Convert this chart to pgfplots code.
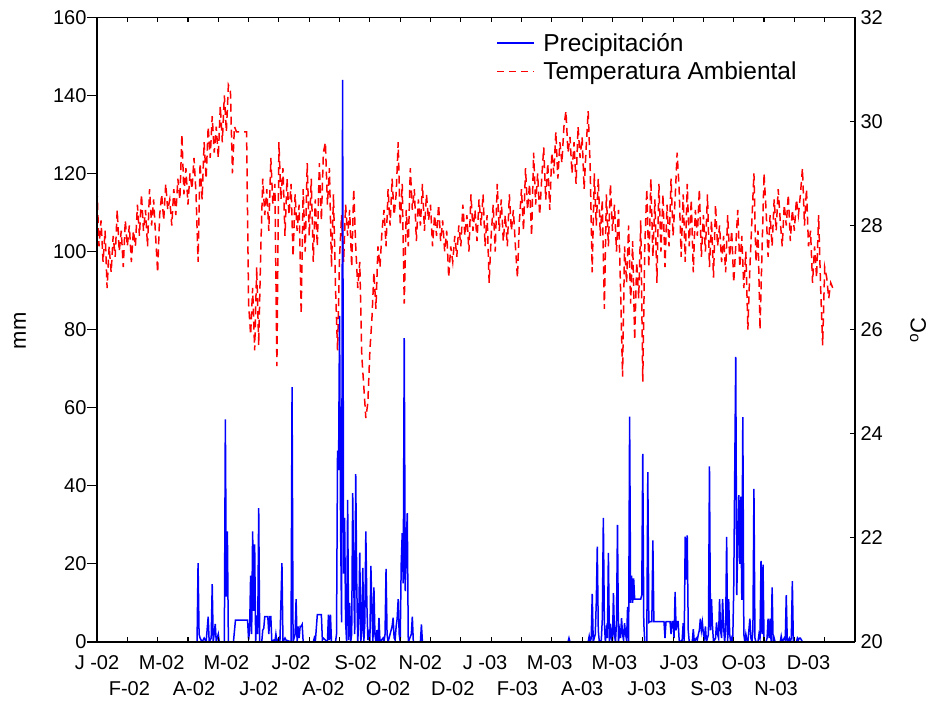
\documentclass[border=0pt]{standalone}
\usepackage{fontspec}
\setmainfont{Liberation Sans}
\usepackage{pgfplots}
\pgfplotsset{compat=1.18}
\pgfplotsset{
  myaxis/.style={scale only axis, width=758pt, height=624.7pt, xmin=0, xmax=750, clip=true,
    tick label style={font=\fontsize{20}{26}\selectfont},
    /pgf/number format/assume math mode=true,
    axis line style={line width=1.3pt, black},
    tick style={black, line width=1.1pt},
  }
}
\begin{document}
\begin{tikzpicture}
\path[use as bounding box] (-97pt,-61pt) rectangle (838pt,642pt);
% ---------- temperature (right axis) ----------
\begin{axis}[myaxis, ymin=20, ymax=32,
  axis x line=none, axis y line*=right, xtick=\empty,
  ytick={20,22,...,32}, tick align=inside, major tick length=5pt,
  yticklabel style={xshift=2pt},
  ylabel={\textsuperscript{o}C},
  every axis y label/.style={at={(axis description cs:1.0831,0.5)}, rotate=90, anchor=center, font=\fontsize{22}{26}\selectfont},
  legend cell align=left,
  legend style={draw=none, fill=none, at={(axis description cs:0.5225,0.981)}, anchor=north west,
    font=\fontsize{24.5}{28}\selectfont, row sep=5pt},
]
\addlegendimage{legend image code/.code={\draw[draw=blue, line width=1.5pt] (0pt,0pt) -- (37pt,0pt); \path (44pt,0pt);}}
\addlegendentry{Precipitación}
\addlegendimage{legend image code/.code={\draw[draw=red, line width=1.7pt, dash pattern=on 7pt off 5pt] (0pt,0pt) -- (37pt,0pt); \path (44pt,0pt);}}
\addlegendentry{Temperatura Ambiental}
\addplot[red, line width=1.5pt, dash pattern=on 8pt off 5pt, forget plot] coordinates {
(0,28.7)(2,27.6)(4,28.1)(6,27.3)(8,27.9)(10,26.8)(12,27.6)(14,27.1)(16,27.8)(18,27.4)(20,28.3)(22,27.5)(24,27.9)(26,27.2)(28,28.1)(30,27.6)(32,28.0)(34,27.3)(36,27.9)
(38,27.6)(40,28.4)(42,27.8)(44,28.6)(46,27.9)(48,28.3)(50,27.6)(52,28.7)(54,28.0)(56,28.5)(58,27.8)(60,27.1)(62,28.2)(64,28.6)(66,28.1)(68,28.8)(70,28.3)
(72,28.5)(74,28.0)(76,28.7)(78,28.2)(80,28.9)(82,28.5)(84,29.75)(86,28.6)(88,29.1)(90,28.4)(92,29.0)(94,28.7)(96,29.3)
(98,28.6)(100,27.3)(102,29.2)(104,28.5)(106,29.6)(108,28.9)(110,29.9)(112,29.3)(114,30.1)(116,29.4)
(118,29.9)(120,29.3)(122,30.3)(124,29.6)(126,30.5)(128,29.8)(130,30.7)(132,30.6)(134,29.0)(136,29.9)
(138,29.8)(148,29.8)
(150,26.5)(152,25.9)(154,26.8)(156,25.6)(158,27.2)(160,25.7)(162,27.5)
(164,28.9)(166,28.2)(168,28.7)(170,27.9)(172,29.3)(174,28.4)(176,28.8)(178,25.3)
(180,29.6)(182,28.5)(184,29.1)(186,27.8)(188,28.9)(190,28.2)
(192,28.8)(194,27.4)(196,28.6)(198,27.9)(200,28.4)
(202,26.3)(204,28.7)(206,27.5)(208,29.2)(210,27.8)(212,28.9)(214,27.3)
(216,28.5)(218,27.6)(220,29.2)(222,28.1)(224,29.4)(226,29.6)(228,28.4)(230,29.1)
(232,27.2)(234,28.6)(236,26.8)(238,25.6)(240,27.4)
(242,28.2)(244,27.3)(246,28.4)(248,27.8)(250,28.3)(252,27.2)(254,28.7)(256,27.6)
(258,26.8)(260,27.3)(262,25.5)(264,24.9)(266,24.3)(268,24.6)(270,25.6)(272,26.2)
(274,27.1)(276,26.4)(278,27.6)(280,27.2)(282,27.9)
(284,28.3)(286,27.6)(288,28.7)(290,28.0)(292,28.9)(294,28.2)(296,28.6)(298,29.6)
(300,28.0)(302,28.8)(304,26.5)(306,28.3)(308,27.6)(310,29.1)
(312,28.3)(314,28.7)(316,27.7)(318,28.5)(320,28.0)(322,28.8)(324,27.9)(326,28.6)(328,28.1)(330,28.4)(332,27.6)(334,28.2)(336,27.8)(338,28.4)
(340,27.7)(342,28.1)(344,27.5)(346,27.9)(348,27.0)(350,27.6)(352,27.3)(354,27.8)(356,27.4)(358,28.0)
(360,27.6)(362,28.4)(364,27.8)(366,28.2)(368,27.5)(370,28.6)(372,27.9)(374,28.3)(376,27.7)(378,28.5)(380,28.0)
(382,28.6)(384,27.6)(386,28.2)(388,26.9)(390,27.8)(392,28.4)(394,27.5)(396,28.8)(398,27.9)
(400,28.5)(402,27.7)(404,28.2)(406,27.6)(408,28.6)(410,27.9)(412,28.3)(414,27.6)(416,27.0)(418,28.1)
(420,28.7)(422,27.9)(424,29.1)(426,28.3)(428,28.8)(430,27.8)(432,29.4)(434,28.4)(436,29.0)(438,28.2)(440,28.9)
(442,29.5)(444,28.5)(446,29.2)(448,28.3)(450,29.4)
(452,29.0)(454,29.8)(456,28.9)(458,29.6)(460,29.2)(462,29.9)(464,30.2)(466,29.4)(468,29.7)
(470,29.0)(472,29.6)(474,28.8)(476,29.9)(478,29.3)(480,29.7)(482,28.7)(484,29.5)(486,30.2)(488,29.1)
(490,27.1)(492,29.0)(494,28.0)(496,28.9)(498,27.8)(500,28.5)
(502,26.4)(504,28.6)(506,27.6)(508,28.8)(510,27.9)(512,28.4)(514,27.5)
(516,28.3)(518,26.8)(520,25.1)(522,27.6)(524,26.9)
(526,28.0)(528,26.5)(530,27.7)(532,25.8)(534,27.3)(536,26.6)(538,28.1)(540,25.0)
(542,27.6)(544,28.7)(546,27.2)(548,28.9)(550,27.4)(552,28.5)(554,26.9)(556,28.8)(558,27.5)(560,28.6)(562,27.2)(564,28.4)
(566,27.6)(568,28.9)(570,27.8)(572,28.5)(574,29.4)(576,28.7)(578,27.4)(580,28.6)
(582,27.3)(584,28.8)(586,27.6)(588,28.5)(590,27.1)(592,28.3)(594,27.8)(596,28.7)(598,27.4)(600,28.2)
(602,27.5)(604,28.6)(606,27.2)(608,28.1)(610,27.0)(612,28.4)(614,27.6)(616,28.0)(618,27.3)(620,27.8)
(622,27.1)(624,28.2)(626,27.4)(628,27.9)(630,26.9)(632,27.6)(634,28.3)(636,27.2)(638,27.8)(640,26.8)(642,27.5)(644,26.0)
(646,27.2)(648,28.1)(650,29.0)(652,27.3)(654,27.9)(656,26.0)
(658,27.5)(660,29.0)(662,28.3)(664,27.4)
(666,28.2)(668,27.6)(670,28.5)(672,27.9)(674,28.7)(676,28.1)(678,27.6)(680,28.4)(682,28.0)(684,28.6)(686,27.7)(688,28.3)(690,27.9)(692,28.5)(694,28.2)
(696,28.6)(698,29.1)(700,28.0)(702,28.7)(704,27.6)
(706,27.9)(708,26.9)(710,27.6)(712,27.0)(714,28.2)(716,26.8)(718,25.7)(720,27.2)
(722,27.0)(724,26.6)(726,26.9)(728,26.8)
};
\end{axis}
% ---------- precipitation (left axis) ----------
\begin{axis}[myaxis, ymin=0, ymax=160,
  axis x line=none, axis y line*=left, xtick=\empty,
  ytick={0,20,...,160}, tick align=outside, major tick length=10pt,
  yticklabel style={xshift=3pt},
  ylabel={mm},
  every axis y label/.style={at={(axis description cs:-0.1016,0.498)}, rotate=90, anchor=center, font=\fontsize{22}{26}\selectfont},
]
\addplot[blue, line width=1.5pt] coordinates {
(0,0)(99,0)(100,20.2)(101,2)(102,1)(103,0.5)(104,0)(106,1)(107,0.5)(108,0)(110,6.5)(111,0)(113,1)(114,14.8)(115,0)(117,4.6)(118,0)(120,2)(121,0)(126,0)(127,57)(128,11.6)(129,28.3)(130,0)(135,0)(137,5.6)(149,5.6)(150,0.5)(151,3)(152,17)(153,2)(154,28.3)(155,8)(156,25)(157,0)(158,6.8)(159,2)(160,34.3)(161,0)(163,0)(164,3)(165,3.5)(166,6.5)(169,6.5)(170,2)(171,6.5)(172,6.5)(173,0)(175,0.5)(176,0)(177,2)(178,0)(180,1)(181,0)(183,20.2)(184,0)(186,1)(187,0.5)(192,0)(193,65.3)(194,0)(196,2)(197,11)(198,0)(199,4)(200,1)(201,4)(202,4)(203,4.5)(204,0)(214,0)(215,1)(216,0)(218,7)(222,7)(223,0.5)(224,1)(228,0)(229,7)(230,0.5)(231,7)(232,0)(236,0)(237,2)(238,49)(239,44)(240,83.5)(241,30)(242,5)(243,144)(244,17.5)(245,31.8)(246,5)(247,0)(248,36.4)(249,0.5)(250,10)(251,0)(252,2)(253,38.1)(254,15)(255,2)(256,43)(257,15)(258,0)(259,6)(260,22.9)(261,0)(262,3)(263,19)(264,0)(265,5)(266,28.3)(267,10)(268,0.5)(269,2)(270,0)(271,19.5)(272,8)(273,0)(274,14)(275,2)(276,0)(277,3)(278,0)(279,6.2)(280,0)(283,1)(284,0)(285,2)(286,18.7)(287,2)(288,0)(292,4)(293,6.2)(294,1)(295,0.5)(296,4)(297,6)(298,11)(299,2)(300,0)(301,20)(302,27.9)(303,15)(304,77.8)(305,13)(306,25)(307,33)(308,0)(311,2)(312,6.5)(313,0)(320,0)(321,4.5)(322,0)(466,0)(467,1)(468,0)
(486,0)(487,1.5)(488,0)(489,1)(490,12.3)(491,0)(493,2)(494,10)(495,24.4)(496,3)(497,0)(499,0.5)(500,6)(501,31.8)(502,5)(503,0)(504,3)(505,1)(506,22.8)(507,0)(508,4.7)(509,1)(510,0)(511,12.5)(512,2)(513,0)(514,5)(515,30)(516,0)(517,3)(518,1)(519,6.1)(520,2)(521,0.5)(522,4.8)(523,2)(524,0.5)(525,9)(526,0)(527,57.7)(528,10)(529,17)(530,10)(531,16.3)(532,11)(538,11)(539,12)(540,48.2)(541,5)(542,0)(544,0)(545,43.5)(546,5)(547,5.2)(549,5.2)(550,26)(551,5.2)(561,5.2)(562,1)(563,5.2)(567,5.2)(568,2)(569,5.2)(570,5.2)(571,1)(572,12.8)(573,3)(574,5.2)(575,5.2)(576,0.5)(577,0)(579,0.5)(580,4.8)(581,0)(582,27)(583,16)(584,27.3)(585,3)(586,0)(589,0)(590,3.3)(591,0)(593,1)(594,0.5)(595,2)(596,3)(597,6)(598,3)(599,5)(600,2)(601,1)(602,4)(603,0)(605,2)(606,45)(607,3)(608,11)(609,4)(610,0)(612,1)(613,5)(614,2)(615,1)(616,11)(617,3)(618,1)(619,11)(620,4)(621,0)(622,3)(623,26.9)(624,0)(625,11)(626,2)(627,0)(628,1)(629,0)(630,13.5)(632,73)(633,12)(634,25)(635,37.6)(636,20)(637,37.2)(638,10.8)(639,57.6)(640,2)(641,0)(642,2)(643,0.5)(644,0)(646,6)(647,1)(648,0)(649,3)(650,39.2)(651,1)(652,0)(654,0)(655,2)(656,1)(657,20.8)(658,2)(659,19.8)(660,0)(662,0)(663,1)(664,6)(665,1)(666,6)(667,0)(668,14)(669,0)(670,1)(671,0)(676,0)(677,1.5)(678,0)(680,1)(681,0.5)(682,12)(683,0)(685,1)(686,0)(687,1)(688,15.6)(689,0)(692,0)(693,1)(694,0.5)(695,1)(696,1)(697,0.5)(698,0)
};
\end{axis}
% ---------- frame with x axis ----------
\begin{axis}[myaxis, ymin=0, ymax=1,
  axis x line=box, axis y line=none, ytick=\empty,
  tick align=inside, major tick length=5pt,
  xtick={0,30,...,720}, xticklabels={},
  extra x ticks={0,32,...,704},
  extra x tick labels={{\strut J -02},{\strut\\F-02},{\strut M-02},{\strut\\A-02},{\strut M-02},{\strut\\J-02},{\strut J-02},{\strut\\A-02},{\strut S-02},{\strut\\O-02},{\strut N-02},{\strut\\D-02},{\strut J -03},{\strut\\F-03},{\strut M-03},{\strut\\A-03},{\strut M-03},{\strut\\J-03},{\strut J-03},{\strut\\S-03},{\strut O-03},{\strut\\N-03},{\strut D-03}},
  extra x tick style={major tick length=0pt},
  xticklabel style={align=center, yshift=-6pt},
]
\end{axis}
\end{tikzpicture}
\end{document}
